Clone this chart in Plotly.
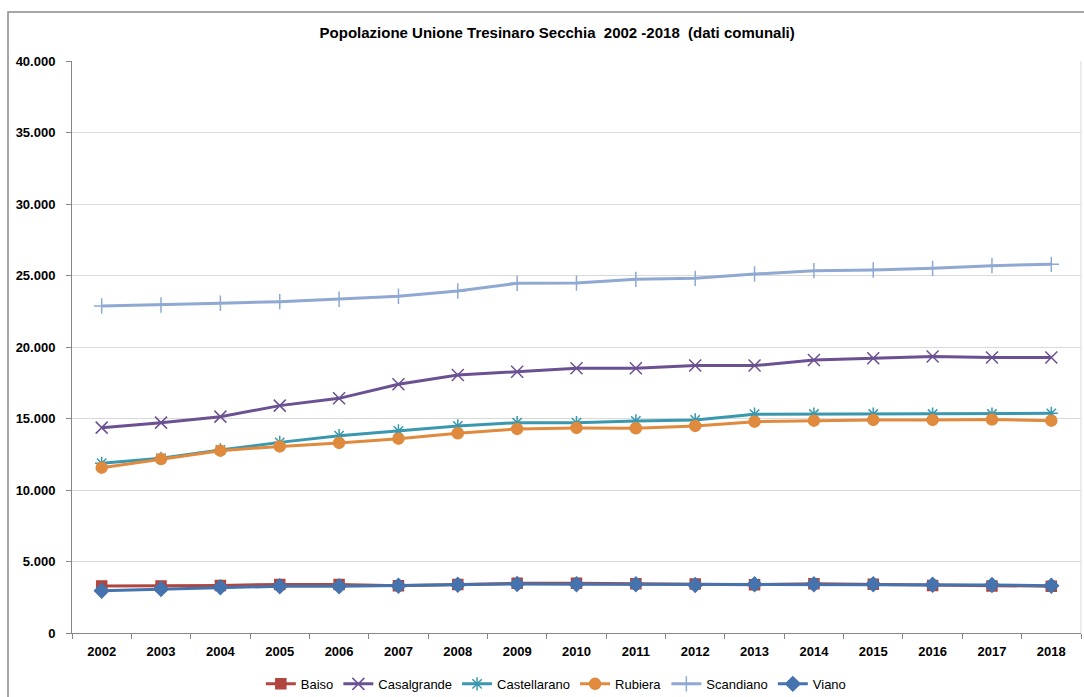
import plotly.graph_objects as go

years = [str(y) for y in range(2002, 2019)]

baiso = [3290, 3290, 3320, 3400, 3400, 3310, 3400, 3480, 3480, 3450, 3430, 3380, 3450, 3410, 3320, 3290, 3270]
casalgrande = [14360, 14710, 15130, 15900, 16410, 17390, 18040, 18270, 18510, 18510, 18700, 18700, 19090, 19210, 19330, 19260, 19260]
castellarano = [11870, 12220, 12800, 13330, 13800, 14130, 14480, 14710, 14710, 14830, 14900, 15300, 15310, 15310, 15310, 15310, 15360]
rubiera = [11560, 12170, 12750, 13050, 13290, 13590, 13970, 14270, 14340, 14320, 14480, 14780, 14850, 14900, 14900, 14930, 14850]
scandiano = [22870, 22940, 23060, 23170, 23340, 23550, 23920, 24450, 24470, 24730, 24800, 25100, 25340, 25380, 25500, 25690, 25780]
viano = [2960, 3080, 3200, 3270, 3270, 3310, 3380, 3430, 3410, 3410, 3360, 3410, 3410, 3410, 3380, 3360, 3310]

series_names = ["Baiso", "Casalgrande", "Castellarano", "Rubiera", "Scandiano", "Viano"]
series_values = [baiso, casalgrande, castellarano, rubiera, scandiano, viano]
colors = ["#B0463F", "#6B5192", "#3A98AE", "#E08A3E", "#8FA9D2", "#4573AE"]
symbols = ["square", "x-thin-open", "asterisk-open", "circle", "cross-thin-open", "diamond"]
sizes = [10, 12, 11, 11, 11, 11]

y_ticks = list(range(0, 40001, 5000))
y_ticktext = ["<b>" + ("0" if v == 0 else f"{v:,}".replace(",", ".")) + "</b>" for v in y_ticks]
x_ticktext = ["<b>" + y + "</b>" for y in years]

FONT = "Liberation Sans Narrow, Arial Narrow, Liberation Sans, sans-serif"

fig = go.Figure()
for name, vals, col, sym, sz in zip(series_names, series_values, colors, symbols, sizes):
    fig.add_trace(go.Scatter(
        x=years, y=vals, name=name, mode="lines+markers",
        line=dict(color=col, width=3),
        marker=dict(symbol=sym, size=sz, color=col, line=dict(color=col, width=1.5)),
    ))

fig.update_layout(
    width=1084, height=697,
    margin=dict(l=72, r=3, t=61, b=64, autoexpand=False),
    paper_bgcolor="white", plot_bgcolor="white",
    font=dict(family=FONT, color="#000000"),
    title=dict(
        text="<b>Popolazione Unione Tresinaro Secchia  2002 -2018  (dati comunali)</b>",
        x=0.514, xanchor="center", y=1 - 33 / 697, yanchor="middle",
        font=dict(size=15, family=FONT, color="#000000"),
    ),
    showlegend=True,
    legend=dict(
        orientation="h", x=0.48, xanchor="center", y=-0.089, yanchor="middle",
        font=dict(size=13, family=FONT),
        itemwidth=30, tracegroupgap=0,
    ),
    xaxis=dict(
        type="category", range=[-0.5, 16.5], automargin=False,
        tickmode="array", tickvals=years, ticktext=x_ticktext,
        showline=True, linecolor="#868686", linewidth=1,
        ticks="outside", tickson="boundaries", ticklen=5, tickcolor="#868686",
        showgrid=False, zeroline=False,
        tickfont=dict(size=13, family=FONT),
        ticklabelstandoff=6,
    ),
    yaxis=dict(
        range=[0, 40000], tickvals=y_ticks, ticktext=y_ticktext, automargin=False,
        showline=True, linecolor="#868686", linewidth=1,
        ticks="outside", ticklen=5, tickcolor="#868686",
        showgrid=True, gridcolor="#D9D9D9", gridwidth=1, zeroline=False,
        tickfont=dict(size=13, family=FONT),
        ticklabelstandoff=8,
    ),
)

# outer chart frame (right and bottom edges lie outside the picture)
fig.add_shape(type="rect", xref="paper", yref="paper",
              x0=(8 - 72) / 1009, x1=(1200 - 72) / 1009,
              y0=(633 - 760) / 572, y1=(633 - 12) / 572,
              line=dict(color="#8A8A8A", width=1.5), fillcolor="rgba(0,0,0,0)", layer="below")
# light right edge of plot area
fig.add_shape(type="line", xref="paper", yref="paper", x0=1, x1=1, y0=0, y1=1,
              line=dict(color="#D9D9D9", width=1), layer="below")

fig.write_html("out.html", config={"displayModeBar": False},
               post_script="document.body.style.margin='0px';document.body.style.overflow='hidden';")
